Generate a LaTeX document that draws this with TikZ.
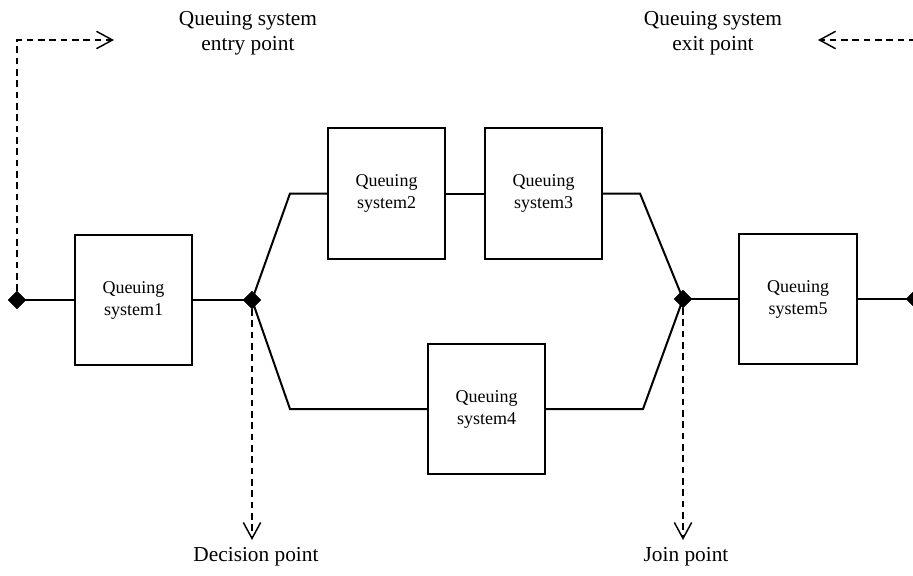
\documentclass[tikz,border=0pt]{standalone}
\usepackage{fontspec}
\setmainfont{Liberation Serif}
\usetikzlibrary{shapes.geometric,arrows.meta}
\begin{document}
\begin{tikzpicture}[x=0.75pt,y=-0.75pt,
  qbox/.style={draw,line width=1.5pt,minimum width=88pt,minimum height=98pt,inner sep=0pt,align=center,
    font=\fontsize{13.5pt}{16.5pt}\selectfont},
  dia/.style={diamond,fill=black,draw=black,minimum size=13pt,inner sep=0pt},
  flow/.style={line width=1.5pt},
  dashline/.style={line width=1.1pt,dash pattern=on 5pt off 3.5pt},
  darrow/.style={dashline,-{Straight Barb[length=12pt,width=13pt,line width=1.1pt]}},
  lab/.style={align=center,font=\fontsize{16pt}{18.75pt}\selectfont,inner sep=0pt}
]
\useasboundingbox (0,0) rectangle (913,575);
% nodes
\node[dia] (L) at (17,300) {};
\node[qbox] (q1) at (133.5,300) {Queuing\\system1};
\node[dia] (D) at (252,300) {};
\node[qbox] (q2) at (386.5,193.5) {Queuing\\system2};
\node[qbox] (q3) at (543.5,193.5) {Queuing\\system3};
\node[qbox] (q4) at (486.5,409) {Queuing\\system4};
\node[dia] (J) at (683,299) {};
\node[qbox] (q5) at (798,299) {Queuing\\system5};
\node[dia] (R) at (915,299) {};
% corner coordinates
\coordinate (u1) at (290,193.5);
\coordinate (u2) at (640,193.5);
\coordinate (l1) at (290,409);
\coordinate (l2) at (643,409);
\coordinate (Lc) at (17,40);
\coordinate (La) at (114,40);
\coordinate (Rc) at (915,40);
\coordinate (Ra) at (818,40);
\coordinate (Dd) at (252,540);
\coordinate (Jd) at (683,540);
% labels
\node[lab] (entry) at (248,33) {Queuing system\\entry point};
\node[lab] (exit) at (713,33) {Queuing system\\exit point};
\node[lab] (dec) at (256,557) {Decision point};
\node[lab] (join) at (686,557) {Join point};
% flow lines
\draw[flow] (L.center) -- (q1.west);
\draw[flow] (q1.east) -- (D.center);
\draw[flow] (D.center) -- (u1) -- (q2.west);
\draw[flow] (q2.east) -- (q3.west);
\draw[flow] (q3.east) -- (u2) -- (J.center);
\draw[flow] (D.center) -- (l1) -- (q4.west);
\draw[flow] (q4.east) -- (l2) -- (J.center);
\draw[flow] (J.center) -- (q5.west);
\draw[flow] (q5.east) -- (R.center);
% redraw diamonds on top
\node[dia] at (L) {};
\node[dia] at (D) {};
\node[dia] at (J) {};
\node[dia] at (R) {};
% dashed arrows
\draw[darrow] (L.north) -- (Lc) -- (La);
\draw[darrow] (R.north) -- (Rc) -- (Ra);
\draw[darrow] (D.south) -- (Dd);
\draw[darrow] (J.south) -- (Jd);
\end{tikzpicture}
\end{document}
